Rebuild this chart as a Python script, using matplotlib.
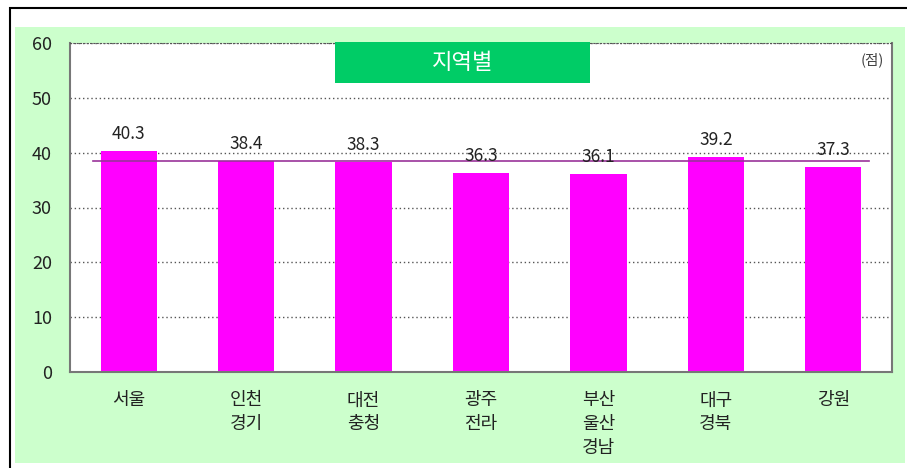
import matplotlib
matplotlib.use("Agg")
import matplotlib.pyplot as plt
from matplotlib.patches import Rectangle

plt.rcParams["font.family"] = ["Noto Sans CJK KR", "DejaVu Sans"]

REGIONS = ["서울", "인천\n경기", "대전\n충청", "광주\n전라", "부산\n울산\n경남", "대구\n경북", "강원"]
SCORES = [40.3, 38.4, 38.3, 36.3, 36.1, 39.2, 37.3]
AVERAGE = 38.5
Y_TICKS = [0, 10, 20, 30, 40, 50, 60]
TITLE = "지역별"
UNIT = "(점)"

BAR_COLOR = "#FF00FF"
PANEL_COLOR = "#CCFFCC"
TITLE_COLOR = "#00CC66"
AVG_COLOR = "#993399"
TEXT_COLOR = "#222222"

W, H = 907, 468
fig = plt.figure(figsize=(W / 100, H / 100), dpi=100)
fig.patch.set_facecolor("white")

# outer frame and green panel (behind the axes)
fig.patches.append(Rectangle((10 / W, -0.1), 1.0, 1.1 - 8 / H, transform=fig.transFigure,
                             facecolor="none", edgecolor="black", linewidth=1.5, zorder=-10))
fig.patches.append(Rectangle((15 / W, 5 / H), 890 / W, 436 / H, transform=fig.transFigure,
                             facecolor=PANEL_COLOR, edgecolor="none", zorder=-10))

ax = fig.add_axes([70 / W, 1 - 372 / H, 822 / W, 329 / H])
ax.set_zorder(1)
ax.set_facecolor("white")

x = list(range(len(REGIONS)))
ax.bar(x, SCORES, width=0.48, color=BAR_COLOR, zorder=2)
ax.plot([-0.3, 6.3], [AVERAGE, AVERAGE], color=AVG_COLOR, linewidth=1.2, zorder=3)

for xi, v in zip(x, SCORES):
    ax.annotate(f"{v:.1f}", (xi, v), xytext=(0, 6), textcoords="offset points",
                ha="center", va="bottom", fontsize=12.5, color=TEXT_COLOR, zorder=4)

ax.set_xlim(-0.5, len(REGIONS) - 0.5)
ax.set_ylim(0, 60)
ax.set_yticks(Y_TICKS)
ax.set_xticks(x)
ax.set_xticklabels(REGIONS, fontsize=13, color=TEXT_COLOR, linespacing=1.4, va="top")
ax.tick_params(axis="x", length=0, pad=14)
ax.tick_params(axis="y", length=0, pad=13, labelsize=13, labelcolor=TEXT_COLOR)

ax.set_axisbelow(True)
ax.yaxis.grid(True, linestyle=(0, (1, 2)), color="#555555", linewidth=1)

for side in ["left", "right", "bottom"]:
    ax.spines[side].set_color("#777777")
    ax.spines[side].set_linewidth(1.5)
ax.spines["top"].set_linestyle((0, (1, 2)))
ax.spines["top"].set_color("#555555")

# title box
ax.add_patch(Rectangle((0.322, 0.879), 0.311, 0.125, transform=ax.transAxes,
                       facecolor=TITLE_COLOR, edgecolor="none", zorder=5, clip_on=False))
ax.text(0.4775, 0.94, TITLE, transform=ax.transAxes, ha="center", va="center",
        fontsize=16, color="white", zorder=6)
ax.text(0.99, 0.95, UNIT, transform=ax.transAxes, ha="right", va="center",
        fontsize=10.5, color="#444444")

plt.savefig("out.png", dpi=100)
